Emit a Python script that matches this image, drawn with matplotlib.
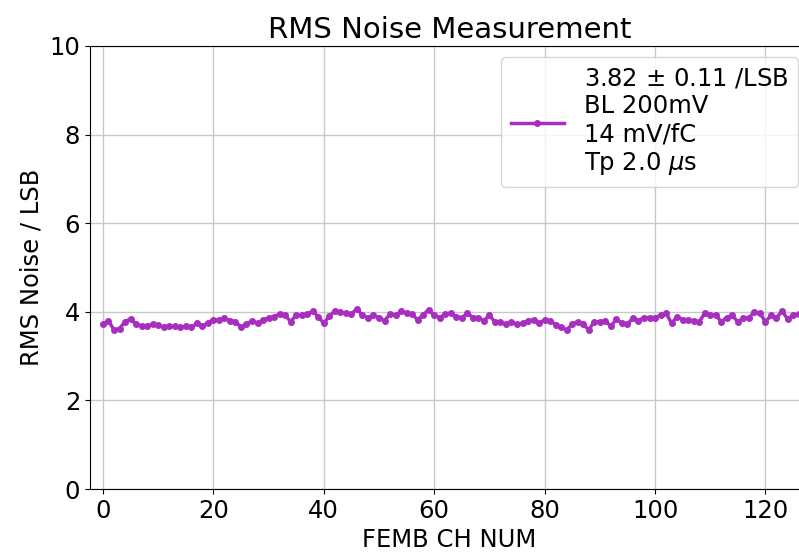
import numpy as np
import matplotlib
matplotlib.use("Agg")
import matplotlib.pyplot as plt

# RMS noise per channel
channels = np.arange(128)
rms_noise = [
    3.72, 3.80, 3.59, 3.62, 3.78, 3.84, 3.72, 3.67, 3.67, 3.72,
    3.71, 3.65, 3.67, 3.67, 3.65, 3.67, 3.65, 3.74, 3.69, 3.74,
    3.82, 3.82, 3.86, 3.80, 3.78, 3.65, 3.72, 3.80, 3.74, 3.82,
    3.86, 3.89, 3.95, 3.92, 3.78, 3.92, 3.92, 3.95, 4.01, 3.89,
    3.74, 3.90, 4.02, 3.99, 3.97, 3.95, 4.07, 3.92, 3.87, 3.92,
    3.87, 3.80, 3.95, 3.92, 4.01, 3.97, 3.95, 3.82, 3.93, 4.05,
    3.92, 3.87, 3.95, 3.97, 3.89, 3.86, 3.97, 3.87, 3.87, 3.80,
    3.92, 3.77, 3.78, 3.72, 3.77, 3.72, 3.74, 3.80, 3.82, 3.74,
    3.82, 3.80, 3.71, 3.65, 3.59, 3.72, 3.78, 3.72, 3.59, 3.78,
    3.77, 3.80, 3.67, 3.84, 3.74, 3.72, 3.86, 3.80, 3.87, 3.87,
    3.87, 3.92, 3.97, 3.74, 3.89, 3.82, 3.82, 3.80, 3.77, 3.97,
    3.93, 3.92, 3.78, 3.87, 3.92, 3.77, 3.86, 3.87, 3.99, 3.97,
    3.77, 3.92, 3.86, 4.02, 3.84, 3.92, 3.95, 3.97,
]
label = "3.82 $\\pm$ 0.11 /LSB\nBL 200mV\n14 mV/fC\nTp 2.0 $\\mu$s"

plt.rcParams["font.size"] = 17.5

fig = plt.figure(figsize=(7.99, 5.54), dpi=100)
# right edge of the axes sits just past the picture, as in the reference
ax = fig.add_axes([0.1126, 0.1173, 0.900, 0.7997])

ax.plot(channels, rms_noise, marker=".", color="#a82ec0", linewidth=2.5,
        markersize=8, label=label)

ax.set_xlim(-2.35, 127.9)
ax.set_ylim(0, 10)
ax.set_xticks(np.arange(0, 121, 20))
ax.set_yticks(np.arange(0, 11, 2))
ax.tick_params(labelsize=17.5)
ax.grid(True, color="#c8c8c8", linewidth=1)
ax.set_axisbelow(True)

ax.set_title("RMS Noise Measurement", fontsize=21)
ax.set_xlabel("FEMB CH NUM", fontsize=17.5)
ax.set_ylabel("RMS Noise / LSB", fontsize=17.5)

ax.legend(loc="upper right", fontsize=17.5, handlelength=2.2,
          borderaxespad=0.45)

fig.savefig("out.png", dpi=100)
